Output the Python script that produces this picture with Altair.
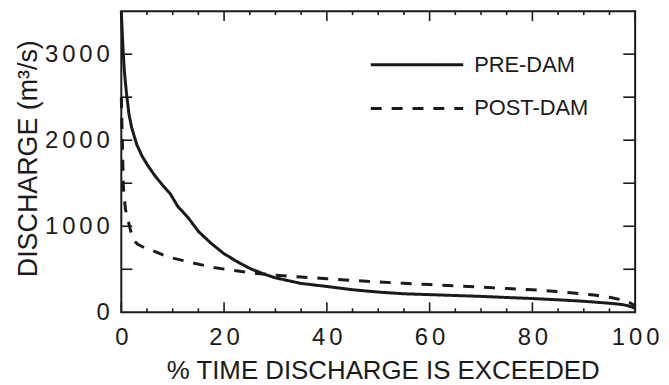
import altair as alt
import pandas as pd

# ---- data ----
pre_x = [0, 0.3, 0.6, 1.0, 1.5, 2.0, 3.0, 4.0, 5.0, 6.5, 8.0, 9.5, 11, 13, 15, 17.5,
         20, 22.5, 25, 27.5, 30, 35, 40, 45, 50, 55, 60, 65, 70, 75, 80, 85, 90, 95,
         97.5, 99, 100]
pre_y = [3500, 3100, 2800, 2550, 2300, 2150, 1950, 1820, 1720, 1590, 1480, 1380, 1230,
         1100, 940, 800, 680, 590, 510, 450, 400, 335, 300, 262, 235, 215, 205, 195,
         185, 172, 160, 145, 128, 105, 90, 70, 45]

post_x = [0, 0.2, 0.4, 0.8, 1.2, 1.8, 2.5, 3.2, 4.5, 6, 8, 10, 14, 18, 22, 26, 30, 35,
          40, 45, 50, 55, 60, 65, 70, 75, 80, 84, 88, 92, 95, 97, 99, 100]
post_y = [2500, 2000, 1450, 1200, 1100, 950, 830, 790, 750, 720, 670, 630, 573, 520,
          485, 455, 432, 410, 390, 370, 352, 337, 322, 307, 292, 277, 262, 245, 225,
          200, 175, 150, 110, 75]

series = ["PRE-DAM", "POST-DAM"]
x_major = [0, 20, 40, 60, 80, 100]
x_minor = [5, 10, 15, 25, 30, 35, 45, 50, 55, 65, 70, 75, 85, 90, 95]
y_ticks = [500, 1000, 1500, 2000, 2500, 3000]
y_labels = [0, 1000, 2000, 3000]

x_title = "% TIME DISCHARGE IS EXCEEDED"
y_title = "DISCHARGE (m\u00b3/s)"

W, H = 517, 303
FONT = "Liberation Sans"
INK = "#1a1a1a"

curves = pd.concat([
    pd.DataFrame({"x": pre_x, "y": pre_y, "series": series[0]}),
    pd.DataFrame({"x": post_x, "y": post_y, "series": series[1]}),
])

xs = alt.Scale(domain=[0, 100], nice=False, zero=False)
ys = alt.Scale(domain=[0, 3500], nice=False)
dash = alt.Scale(domain=series, range=[[1, 0], [11, 10]])
spaced = "join(split(datum.label, ''), '\u2006')"

x_axis = alt.Axis(
    values=x_major, format="d", ticks=False, domain=False, grid=False,
    labelFont=FONT, labelFontSize=24, labelColor=INK, labelPadding=13,
    labelFlush=False, labelOverlap=False, labelExpr=spaced,
    title=x_title, titleFont=FONT, titleFontSize=26, titleFontWeight="normal",
    titleColor=INK, titleX=263, titleY=67, titleBaseline="alphabetic")
y_axis = alt.Axis(
    values=y_labels, format="d", ticks=False, domain=False, grid=False,
    labelFont=FONT, labelFontSize=24, labelColor=INK, labelPadding=12,
    labelOverlap=False, labelExpr=spaced,
    title=y_title, titleFont=FONT, titleFontSize=27, titleFontWeight="normal",
    titleColor=INK, titleX=-85, titleY=148, titleAngle=270,
    titleBaseline="alphabetic")

X = alt.X("x:Q", scale=xs, axis=x_axis)
Y = alt.Y("y:Q", scale=ys, axis=y_axis)

lines = alt.Chart(curves).mark_line(strokeWidth=3, color=INK).encode(
    x=X, y=Y,
    strokeDash=alt.StrokeDash("series:N", scale=dash, legend=None),
    order="x:Q",
)


def xticks(vals, y0, y1):
    return alt.Chart(pd.DataFrame({"x": vals})).mark_rule(
        color=INK, strokeWidth=1.6).encode(x=X, y=alt.value(y0), y2=alt.value(y1))


def yticks(vals, x0, x1):
    return alt.Chart(pd.DataFrame({"y": vals})).mark_rule(
        color=INK, strokeWidth=1.6).encode(y=Y, x=alt.value(x0), x2=alt.value(x1))


ticks = [
    xticks(x_major, H, H - 10), xticks(x_minor, H, H - 4),
    xticks(x_major, 0, 10), xticks(x_minor, 0, 4),
    yticks(y_ticks, 0, 11), yticks(y_ticks, W, W - 12),
]


def legend_row(name, ly):
    d = pd.DataFrame({"series": [name]})
    rule = alt.Chart(d).mark_rule(strokeWidth=3, color=INK).encode(
        x=alt.value(251), x2=alt.value(344), y=alt.value(ly),
        strokeDash=alt.StrokeDash("series:N", scale=dash, legend=None))
    txt = alt.Chart(d).mark_text(
        align="left", baseline="middle", font=FONT, fontSize=22, color=INK).encode(
        x=alt.value(355), y=alt.value(ly), text="series:N")
    return [rule, txt]


legend = legend_row(series[0], 54) + legend_row(series[1], 98)

chart = alt.layer(lines, *ticks, *legend).properties(
    width=W, height=H,
    autosize=alt.AutoSizeParams(type="none"),
    padding={"left": 114, "top": 2, "right": 26, "bottom": 72},
    background="white",
).configure_view(stroke=INK, strokeWidth=2)

chart.save("out.html", embed_options={"renderer": "svg", "actions": False})
